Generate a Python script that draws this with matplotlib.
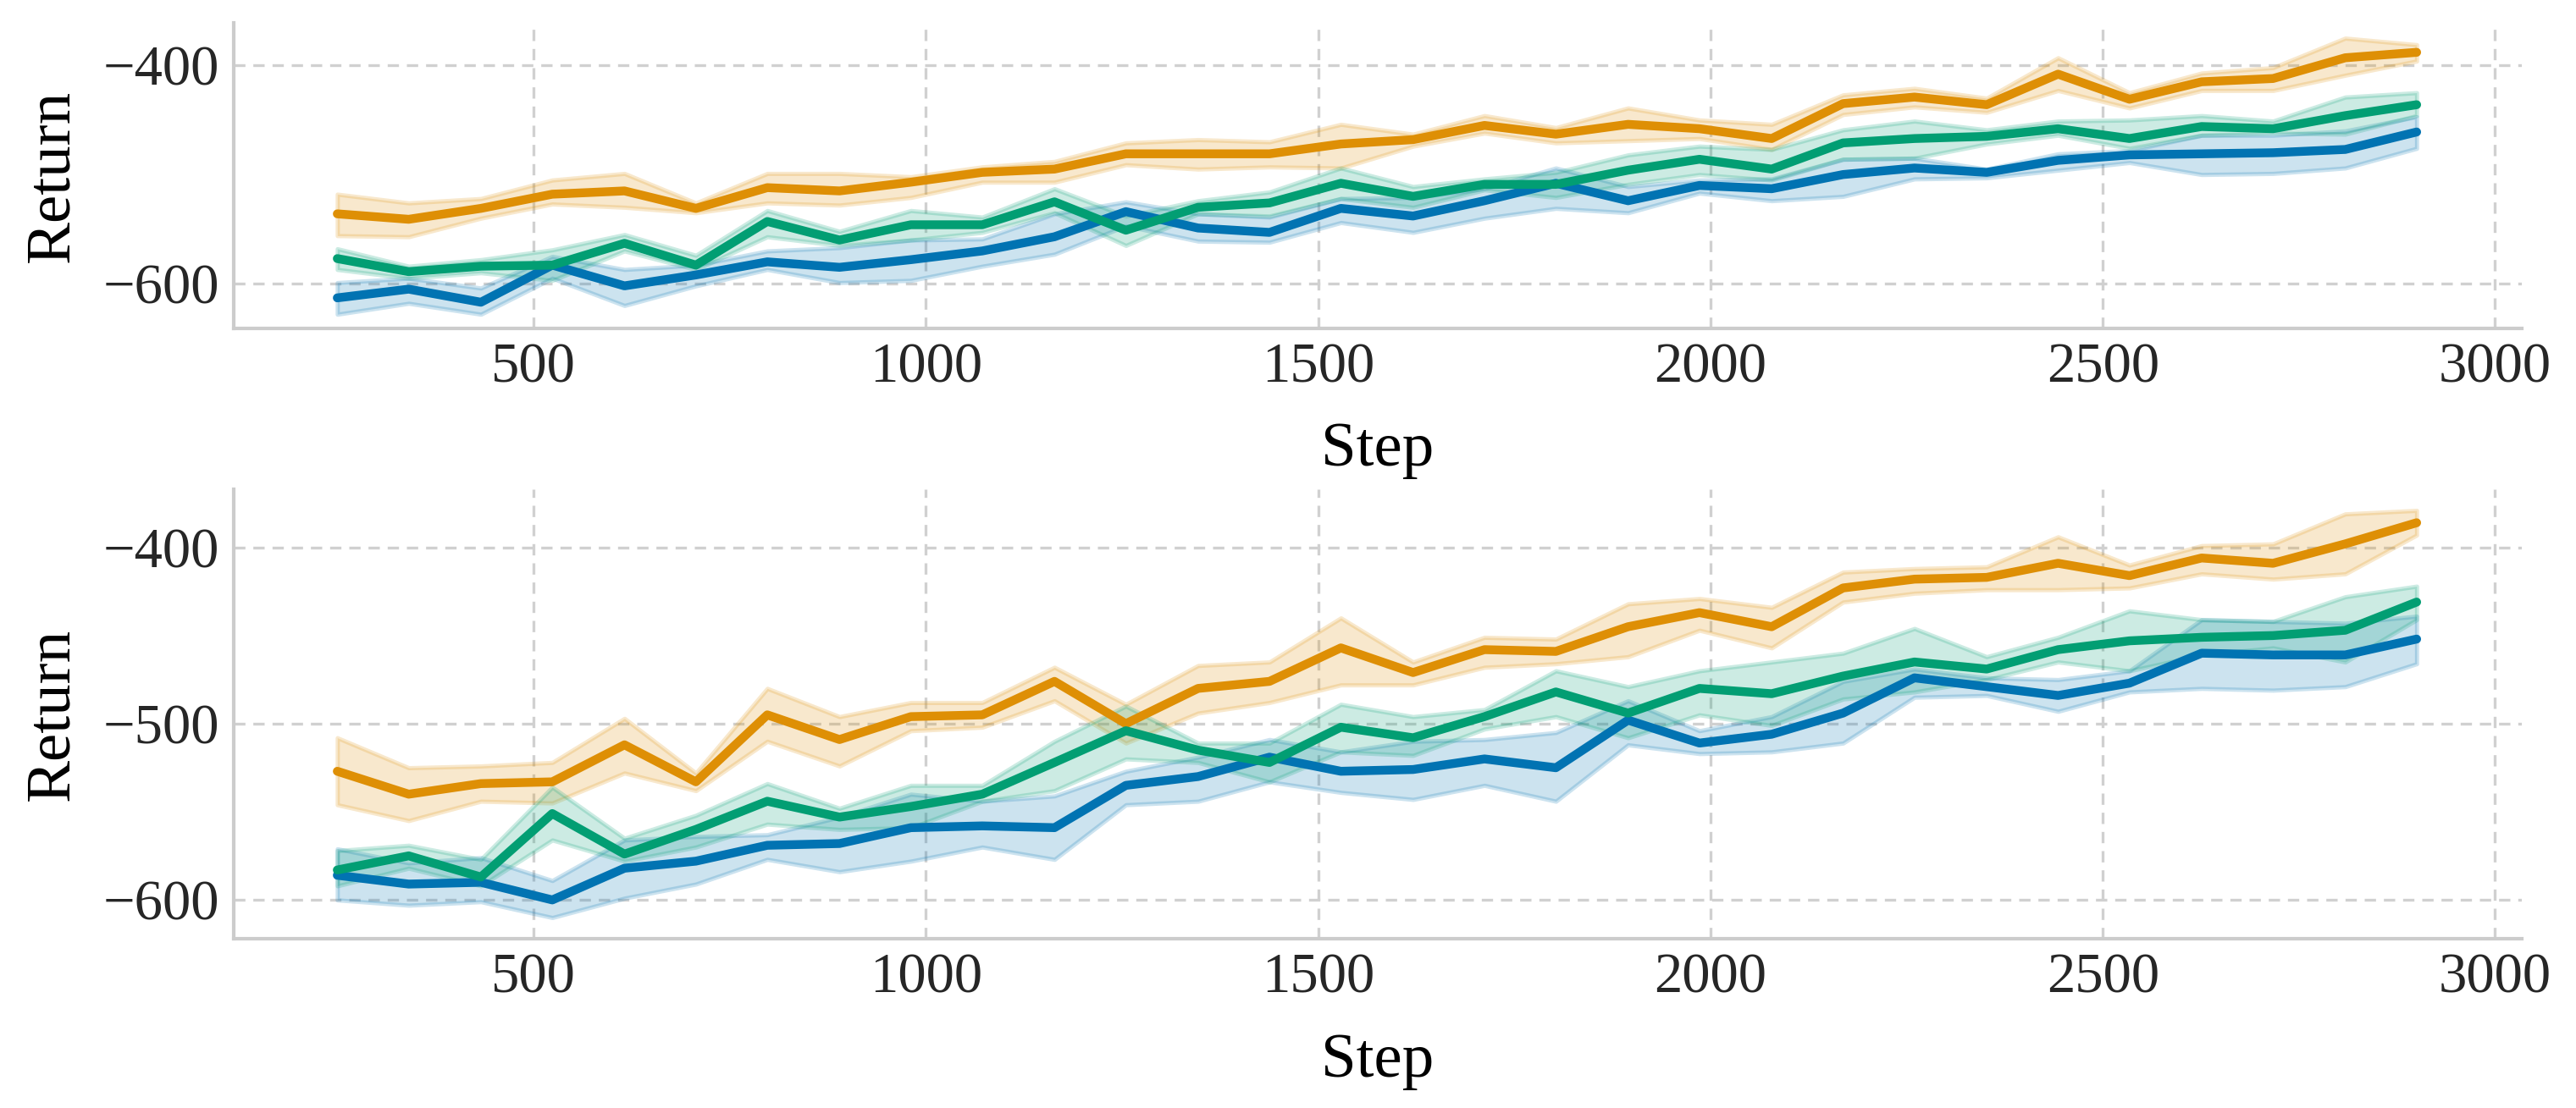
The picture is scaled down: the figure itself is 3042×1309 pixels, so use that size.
import matplotlib
matplotlib.use("Agg")
import matplotlib.pyplot as plt

plt.rcParams['font.family'] = ['Liberation Serif', 'DejaVu Serif']
plt.rcParams['mathtext.fontset'] = 'stix'

steps = [250, 341, 433, 524, 616, 707, 798, 890, 981, 1072, 1164, 1255, 1347, 1438, 1529,
         1621, 1712, 1803, 1895, 1986, 2078, 2169, 2260, 2352, 2443, 2534, 2626, 2717, 2809, 2900]

# ---- top panel ----
top_orange = [-536, -541, -531, -518, -515, -531, -512, -515, -507, -498, -495, -481, -481, -481, -472,
              -468, -455, -463, -454, -458, -467, -435, -429, -436, -408, -431, -415, -412, -393, -388]
top_orange_hi = [-518, -526, -522, -505, -499, -526, -499, -499, -502, -493, -488, -471, -468, -470, -454,
                 -463, -446, -457, -439, -450, -454, -427, -421, -430, -393, -425, -407, -402, -375, -381]
top_orange_lo = [-556, -557, -540, -527, -530, -535, -526, -528, -521, -507, -507, -491, -495, -493, -494,
                 -474, -462, -471, -469, -467, -477, -445, -438, -443, -423, -439, -423, -423, -409, -396]

top_green = [-577, -589, -584, -583, -563, -583, -543, -560, -546, -546, -525, -551, -530, -526, -508,
             -520, -509, -509, -496, -486, -495, -471, -467, -465, -458, -467, -456, -458, -446, -436]
top_green_hi = [-568, -584, -578, -569, -555, -574, -533, -552, -533, -539, -513, -538, -524, -516, -494,
                -511, -504, -498, -482, -474, -477, -459, -451, -459, -451, -450, -446, -451, -429, -425]
top_green_lo = [-587, -595, -590, -597, -570, -587, -557, -565, -560, -553, -535, -565, -536, -538, -522,
                -530, -514, -521, -509, -500, -505, -486, -485, -472, -464, -476, -464, -462, -463, -446]

top_blue = [-613, -605, -617, -583, -602, -592, -580, -585, -578, -570, -557, -534, -549, -553, -531,
            -538, -524, -508, -524, -510, -513, -500, -494, -498, -487, -482, -481, -480, -477, -461]
top_blue_hi = [-599, -595, -604, -575, -587, -583, -570, -567, -560, -559, -536, -525, -536, -539, -522,
               -521, -513, -494, -511, -505, -504, -486, -485, -495, -481, -478, -464, -464, -460, -447]
top_blue_lo = [-628, -618, -628, -595, -620, -602, -587, -599, -597, -584, -573, -547, -561, -562, -544,
               -553, -540, -531, -535, -517, -524, -520, -504, -503, -496, -489, -500, -499, -494, -476]

# ---- bottom panel ----
bot_orange = [-527, -540, -534, -533, -512, -533, -495, -509, -496, -495, -476, -500, -480, -476, -457,
              -471, -458, -459, -445, -437, -445, -423, -418, -417, -409, -416, -406, -409, -398, -386]
bot_orange_hi = [-508, -525, -524, -522, -497, -528, -480, -496, -488, -488, -468, -489, -467, -465, -440,
                 -465, -451, -452, -432, -429, -434, -414, -412, -411, -394, -410, -399, -398, -381, -379]
bot_orange_lo = [-546, -555, -544, -545, -528, -538, -510, -524, -504, -502, -487, -511, -494, -488, -478,
                 -478, -468, -466, -462, -447, -457, -431, -426, -424, -424, -423, -415, -418, -415, -393]

bot_green = [-583, -575, -587, -551, -574, -560, -544, -553, -547, -540, -522, -504, -515, -522, -502,
             -508, -496, -482, -494, -480, -483, -473, -465, -469, -458, -453, -451, -450, -447, -431]
bot_green_hi = [-572, -569, -577, -536, -565, -552, -534, -548, -535, -535, -510, -490, -511, -511, -489,
                -496, -492, -470, -479, -470, -465, -460, -446, -462, -451, -436, -441, -442, -428, -422]
bot_green_lo = [-592, -582, -592, -566, -578, -570, -557, -560, -559, -544, -538, -520, -522, -533, -516,
                -518, -503, -496, -508, -495, -501, -486, -482, -475, -465, -470, -461, -457, -465, -441]

bot_blue = [-586, -591, -590, -600, -582, -578, -569, -568, -559, -558, -559, -535, -530, -519, -527,
            -526, -520, -525, -498, -511, -506, -494, -474, -479, -484, -477, -460, -461, -461, -452]
bot_blue_hi = [-571, -579, -576, -589, -566, -564, -563, -553, -540, -544, -541, -527, -519, -509, -516,
               -510, -509, -505, -487, -504, -496, -476, -469, -474, -475, -470, -441, -442, -443, -439]
bot_blue_lo = [-600, -603, -601, -610, -599, -591, -577, -584, -578, -570, -577, -546, -544, -533, -539,
               -543, -535, -544, -512, -517, -516, -511, -485, -484, -493, -482, -480, -481, -479, -466]

colors = {'blue': '#0173b2', 'orange': '#de8f05', 'green': '#029e73'}

W, H, DPI = 3042, 1309, 300
fig = plt.figure(figsize=(W / DPI, H / DPI), dpi=DPI)

def px_axes(l, t, r, b):
    return fig.add_axes([l / W, 1 - b / H, (r - l) / W, (b - t) / H])

ax_top = px_axes(276, 27, 2978, 388)
ax_bot = px_axes(276, 578, 2978, 1109)

panels = [
    (ax_top, [(top_blue, top_blue_lo, top_blue_hi, 'blue'),
              (top_orange, top_orange_lo, top_orange_hi, 'orange'),
              (top_green, top_green_lo, top_green_hi, 'green')],
     (-641, -361), [-600, -400]),
    (ax_bot, [(bot_blue, bot_blue_lo, bot_blue_hi, 'blue'),
              (bot_orange, bot_orange_lo, bot_orange_hi, 'orange'),
              (bot_green, bot_green_lo, bot_green_hi, 'green')],
     (-622, -367), [-600, -500, -400]),
]

for ax, series, ylim, yticks in panels:
    for mean, lo, hi, cname in series:
        c = colors[cname]
        ax.fill_between(steps, lo, hi, color=c, alpha=0.2, linewidth=1.2)
    for mean, lo, hi, cname in series:
        c = colors[cname]
        ax.plot(steps, mean, color=c, linewidth=2.5, solid_capstyle='round', zorder=3)
    ax.set_xlim(118, 3034)
    ax.set_ylim(*ylim)
    ax.set_yticks(yticks)
    ax.set_xticks([500, 1000, 1500, 2000, 2500, 3000])
    ax.grid(True, linestyle=(0, (4.0, 2.8)), color='#d0d0d0', linewidth=0.8)
    ax.set_axisbelow(True)
    for s in ['top', 'right']:
        ax.spines[s].set_visible(False)
    for s in ['left', 'bottom']:
        ax.spines[s].set_color('#cccccc')
        ax.spines[s].set_linewidth(1.0)
    ax.tick_params(axis='both', length=0, labelsize=16, labelcolor='#262626', pad=4)
    ax.set_xlabel('Step', fontsize=18, labelpad=8)
    ax.set_ylabel('Return', fontsize=18, labelpad=6)

fig.savefig('out.png', dpi=DPI)
